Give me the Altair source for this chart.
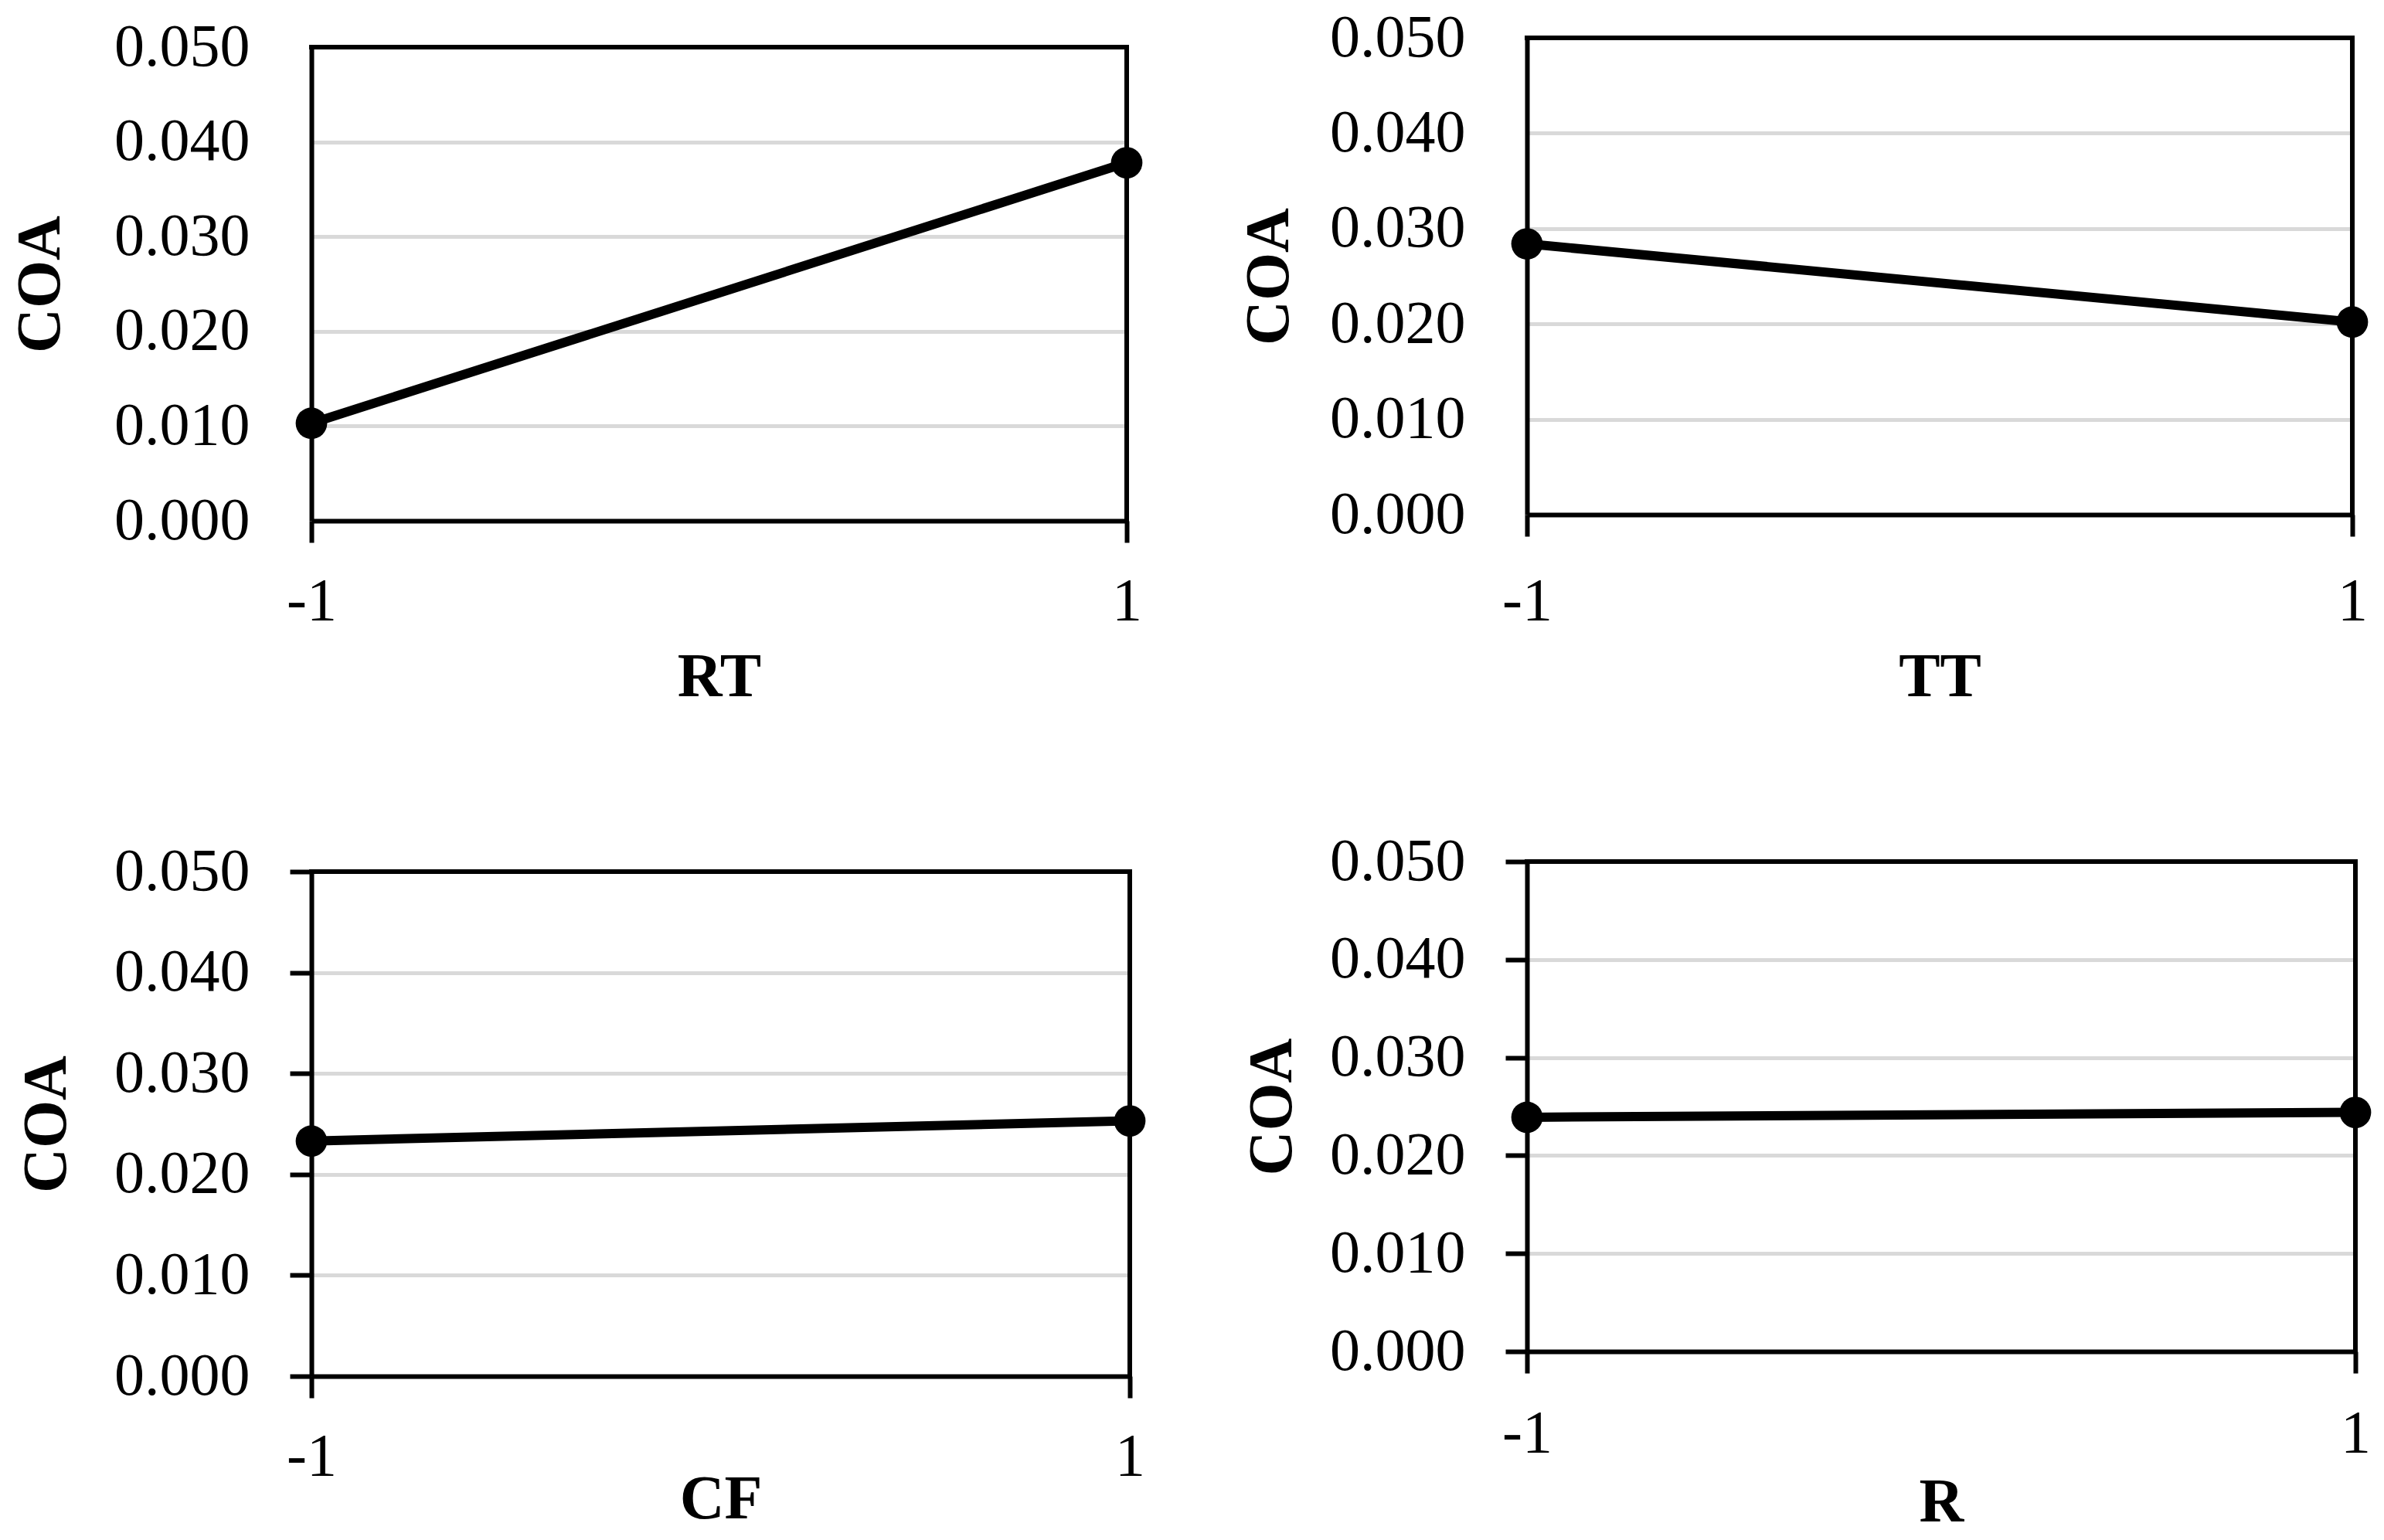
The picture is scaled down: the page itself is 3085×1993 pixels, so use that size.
import altair as alt
import pandas as pd

levels = [-1, 1]
rt_coa = [0.0103, 0.0378]
tt_coa = [0.0284, 0.0202]
cf_coa = [0.0233, 0.0253]
r_coa = [0.0239, 0.0244]
y_ticks = [0.0, 0.01, 0.02, 0.03, 0.04, 0.05]
y_min, y_max = 0.0, 0.05

FONT = "Liberation Serif"


def panel(name, values, w, h, top_gap, show_yticks, title_x, label_pad, title_pad):
    df = pd.DataFrame({"level": levels, "coa": values})
    view_h = h + top_gap
    x_scale = alt.Scale(domain=[levels[0], levels[-1]], nice=False, zero=False)
    y_scale = alt.Scale(domain=[y_min, y_max], nice=False, zero=True, range=[view_h, top_gap])
    x = alt.X(
        "level:Q",
        scale=x_scale,
        axis=alt.Axis(
            values=levels,
            labelExpr="'' + datum.value",
            labelFlush=False,
            title=name,
            grid=False,
            tickSize=28,
            tickWidth=6,
            tickColor="black",
            labelPadding=label_pad,
            titlePadding=title_pad,
        ),
    )
    y = alt.Y(
        "coa:Q",
        scale=y_scale,
        axis=alt.Axis(
            values=y_ticks,
            format=".3f",
            title="COA",
            grid=True,
            gridColor="#d9d9d9",
            gridWidth=5,
            tickSize=28,
            tickWidth=6,
            tickColor="black",
            tickOpacity=1 if show_yticks else 0,
            labelPadding=52,
            titleX=title_x,
            titleY=top_gap + h / 2,
            titleBaseline="alphabetic",
        ),
    )
    one = pd.DataFrame({"k": [0]})
    top_border = alt.Chart(one).mark_rule(color="black", strokeWidth=6, strokeCap="square").encode(
        y=alt.datum(y_max), x=alt.datum(levels[0]), x2=alt.datum(levels[-1])
    )
    right_border = alt.Chart(one).mark_rule(color="black", strokeWidth=6, strokeCap="square").encode(
        x=alt.datum(levels[-1]), y=alt.datum(y_min), y2=alt.datum(y_max)
    )
    base = alt.Chart(df).encode(x=x, y=y)
    line = base.mark_line(color="black", strokeWidth=12)
    pts = base.mark_point(filled=True, shape="circle", size=1660, color="black", opacity=1)
    return alt.layer(line, top_border, right_border, pts).properties(width=w, height=view_h)


p1 = panel("RT", rt_coa, 1055, 613, 12, False, -327, 37, 20)
p2 = panel("TT", tt_coa, 1068, 617, 0, False, -310, 45, 20)
p3 = panel("CF", cf_coa, 1059, 653, 13, True, -319, 37, -23)
p4 = panel("R", r_coa, 1072, 634, 0, True, -306, 39, 11)

top = alt.hconcat(p1, p2, spacing=120)
bottom = alt.hconcat(p3, p4, spacing=120)

chart = (
    alt.vconcat(top, bottom, spacing=160)
    .properties(padding={"left": 4, "top": 2, "right": 0, "bottom": 0}, background="white")
    .configure_view(stroke=None)
    .configure_axis(
        labelFont=FONT,
        titleFont=FONT,
        labelFontSize=78,
        titleFontSize=80,
        titleFontWeight="bold",
        labelColor="black",
        titleColor="black",
        domainColor="black",
        domainWidth=6,
    )
)

chart.save("out.html", embed_options={"renderer": "svg", "actions": False})
